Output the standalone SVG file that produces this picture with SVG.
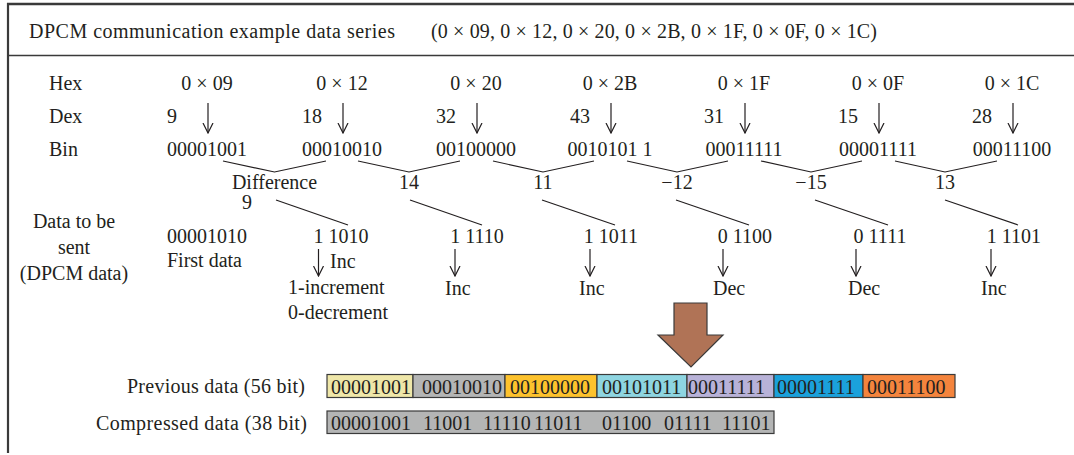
<svg xmlns="http://www.w3.org/2000/svg" width="1074" height="455" viewBox="0 0 1074 455">
<defs>
<style>
text { font-family: 'Liberation Serif', 'DejaVu Serif', Times, serif; font-size: 20px; fill: #231f20; }
.c { text-anchor: middle; }
.e { text-anchor: end; }
.ln { stroke: #231f20; stroke-width: 1.2; fill: none; }
.ar { stroke: #231f20; stroke-width: 1.2; fill: none; marker-end: url(#ah); }
.frame { stroke: #3a3a3a; fill: none; }
.seg { stroke: #3a3a3a; stroke-width: 1.2; }
</style>
<marker id="ah" viewBox="0 -6 11 12" refX="10" refY="0" markerWidth="11" markerHeight="12" markerUnits="userSpaceOnUse" orient="auto">
<path d="M0,-5 L10,0 L0,5" fill="none" stroke="#231f20" stroke-width="1.2"/>
</marker>
</defs>
<rect width="1074" height="455" fill="#ffffff"/>

<g id="frame">
<line class="frame" x1="7" y1="4" x2="1074" y2="4" stroke-width="2.5"/>
<line class="frame" x1="8" y1="3" x2="8" y2="453" stroke-width="2.2"/>
<line class="frame" x1="8" y1="55.5" x2="1074" y2="55.5" stroke-width="1.5"/>
</g>

<g id="header">
<text x="29" y="38" textLength="366" lengthAdjust="spacing">DPCM communication example data series</text>
<text x="431" y="38" textLength="446" lengthAdjust="spacing">(0 × 09, 0 × 12, 0 × 20, 0 × 2B, 0 × 1F, 0 × 0F, 0 × 1C)</text>
</g>

<g id="row-labels">
<text x="49" y="90">Hex</text>
<text x="49" y="123">Dex</text>
<text x="49" y="156">Bin</text>
<text class="c" x="74" y="228">Data to be</text>
<text class="c" x="74" y="254">sent</text>
<text class="c" x="74" y="280">(DPCM data)</text>
</g>

<g id="col1">
<text class="c" x="207" y="90">0 × 09</text>
<text x="167" y="123">9</text>
<text class="c" x="207" y="156">00001001</text>
<text x="167" y="243">00001010</text>
<text x="167" y="267">First data</text>
</g>
<g id="col2">
<text class="c" x="342" y="90">0 × 12</text>
<text x="302" y="123">18</text>
<text class="c" x="342" y="156">00010010</text>
<text class="c" x="341" y="243">1 1010</text>
<text x="330" y="268">Inc</text>
<text x="288" y="294">1-increment</text>
<text x="288" y="319">0-decrement</text>
</g>
<g id="col3">
<text class="c" x="476" y="90">0 × 20</text>
<text x="436" y="123">32</text>
<text class="c" x="476" y="156">00100000</text>
<text class="c" x="477" y="243">1 1110</text>
<text x="445" y="295">Inc</text>
</g>
<g id="col4">
<text class="c" x="610" y="90">0 × 2B</text>
<text x="570" y="123">43</text>
<text class="c" x="610" y="156">0010101 1</text>
<text class="c" x="611" y="243">1 1011</text>
<text x="579" y="295">Inc</text>
</g>
<g id="col5">
<text class="c" x="744" y="90">0 × 1F</text>
<text x="704" y="123">31</text>
<text class="c" x="744" y="156">00011111</text>
<text class="c" x="745" y="243">0 1100</text>
<text x="713" y="295">Dec</text>
</g>
<g id="col6">
<text class="c" x="878" y="90">0 × 0F</text>
<text x="838" y="123">15</text>
<text class="c" x="878" y="156">00001111</text>
<text class="c" x="880" y="243">0 1111</text>
<text x="848" y="295">Dec</text>
</g>
<g id="col7">
<text class="c" x="1012" y="90">0 × 1C</text>
<text x="972" y="123">28</text>
<text class="c" x="1012" y="156">00011100</text>
<text class="c" x="1014" y="243">1 1101</text>
<text x="981" y="295">Inc</text>
</g>

<g id="differences">
<text class="c" x="274.5" y="189">Difference</text>
<text class="c" x="247" y="209">9</text>
<text class="c" x="409" y="189">14</text>
<text class="c" x="543" y="189">11</text>
<text class="c" x="677" y="189">−12</text>
<text class="c" x="811" y="189">−15</text>
<text class="c" x="945" y="189">13</text>
</g>

<g id="connectors">
<line class="ar" x1="208" y1="103" x2="208" y2="133"/>
<line class="ar" x1="343" y1="103" x2="343" y2="133"/>
<line class="ar" x1="477" y1="103" x2="477" y2="133"/>
<line class="ar" x1="611" y1="103" x2="611" y2="133"/>
<line class="ar" x1="745" y1="103" x2="745" y2="133"/>
<line class="ar" x1="879" y1="103" x2="879" y2="133"/>
<line class="ar" x1="1013" y1="103" x2="1013" y2="133"/>
<polyline class="ln" points="223,161 274.5,172 326,161"/>
<polyline class="ln" points="358,161 409,172 460,161"/>
<polyline class="ln" points="493,161 543,172 594,161"/>
<polyline class="ln" points="627,161 677,172 728,161"/>
<polyline class="ln" points="761,161 811,172 862,161"/>
<polyline class="ln" points="895,161 945,172 997,161"/>
<line class="ln" x1="276" y1="200" x2="348" y2="225"/>
<line class="ln" x1="410" y1="200" x2="482" y2="225"/>
<line class="ln" x1="542" y1="200" x2="615" y2="225"/>
<line class="ln" x1="676" y1="200" x2="749" y2="225"/>
<line class="ln" x1="815" y1="200" x2="888" y2="225"/>
<line class="ln" x1="945" y1="200" x2="1018" y2="225"/>
<line class="ar" x1="318.5" y1="249" x2="318.5" y2="276"/>
<line class="ar" x1="455" y1="249" x2="455" y2="276"/>
<line class="ar" x1="590" y1="249" x2="590" y2="276"/>
<line class="ar" x1="723" y1="249" x2="723" y2="276"/>
<line class="ar" x1="856" y1="249" x2="856" y2="276"/>
<line class="ar" x1="991" y1="249" x2="991" y2="276"/>
</g>

<g id="big-arrow">
<polygon points="674,303 707,303 707,335 723,335 691,367 658,335 674,335" fill="#b07356" stroke="#3a3a3a" stroke-width="1.2"/>
</g>

<g id="previous-data">
<text x="127" y="393" textLength="178" lengthAdjust="spacing">Previous data (56 bit)</text>
<rect class="seg" x="327" y="374.5" width="86" height="23" fill="#efe7a9"/>
<rect class="seg" x="413" y="374.5" width="92" height="23" fill="#b4b5b5"/>
<rect class="seg" x="505" y="374.5" width="92" height="23" fill="#fdc22d"/>
<rect class="seg" x="597" y="374.5" width="90" height="23" fill="#8ed5e1"/>
<rect class="seg" x="687" y="374.5" width="87" height="23" fill="#b8b2d8"/>
<rect class="seg" x="774" y="374.5" width="89" height="23" fill="#1ba1db"/>
<rect class="seg" x="863" y="374.5" width="92" height="23" fill="#f4843d"/>
<text x="331" y="394">00001001</text>
<text x="422" y="394">00010010</text>
<text x="510" y="394">00100000</text>
<text x="602" y="394">00101011</text>
<text x="688" y="394">00011111</text>
<text x="777" y="394">00001111</text>
<text x="867" y="394">00011100</text>
</g>

<g id="compressed-data">
<text x="96" y="430" textLength="211" lengthAdjust="spacing">Compressed data (38 bit)</text>
<rect class="seg" x="327" y="411" width="447" height="22.5" fill="#b4b5b5"/>
<text x="331" y="430">00001001</text>
<text x="423" y="430">11001</text>
<text x="483" y="430">11110</text>
<text x="534" y="430">11011</text>
<text x="602" y="430">01100</text>
<text x="664" y="430">01111</text>
<text x="722" y="430">11101</text>
</g>
</svg>
